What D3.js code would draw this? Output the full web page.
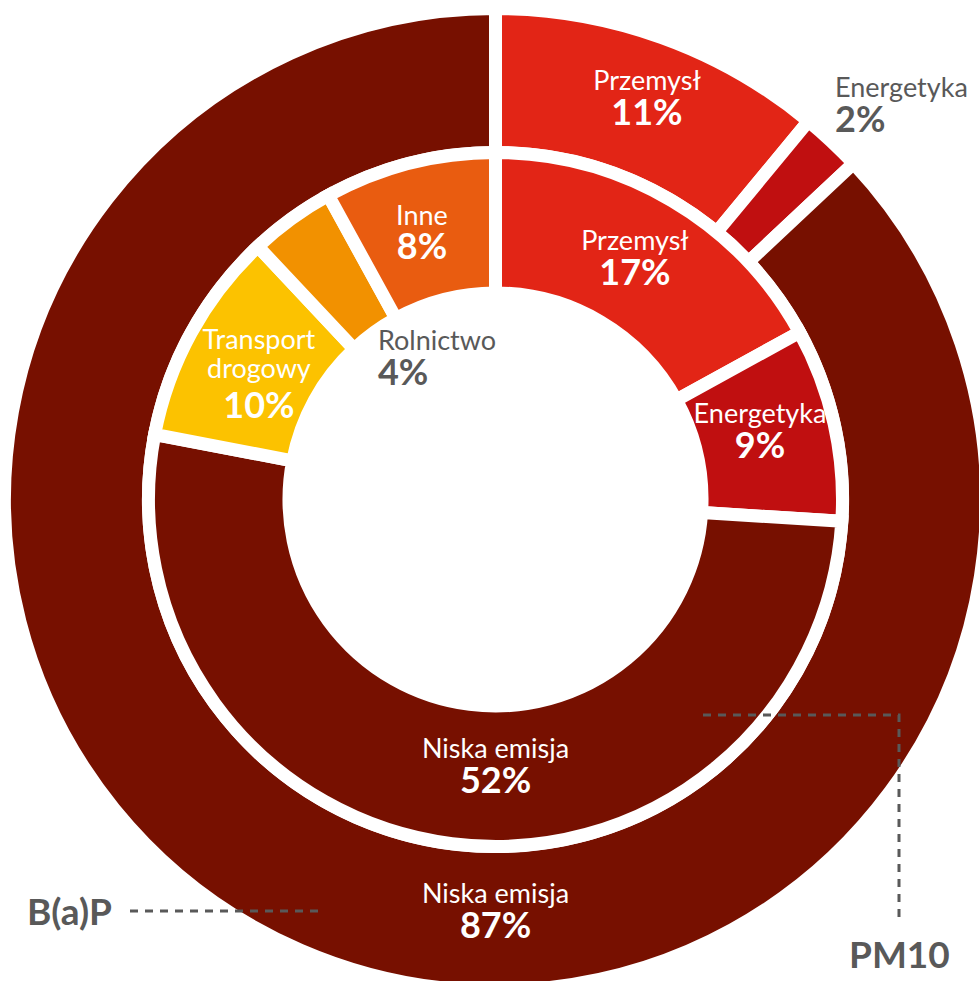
<!DOCTYPE html>
<html>
<head>
<meta charset="utf-8">
<script src="https://cdn.jsdelivr.net/npm/d3@7"></script>
<style>
  html, body { margin: 0; padding: 0; background: #fff; }
  svg { display: block; font-family: Lato, "Open Sans", sans-serif; }
</style>
</head>
<body>
<svg id="chart" width="979" height="981"></svg>
<script>
// ---- data ----
const outerCategories = ["Przemysł", "Energetyka", "Niska emisja"];
const outerValues = [11, 2, 87];
const innerCategories = ["Przemysł", "Energetyka", "Niska emisja", "Transport drogowy", "Rolnictwo", "Inne"];
const innerValues = [17, 9, 52, 10, 4, 8];
const ringNames = ["B(a)P", "PM10"];

// ---- styles / layout ----
const colorMap = {
  "Przemysł": "#e22516",
  "Energetyka": "#c00f10",
  "Niska emisja": "#771000",
  "Transport drogowy": "#fcc200",
  "Rolnictwo": "#f29100",
  "Inne": "#e95c10"
};
const cx = 495.5, cy = 499.5;
const gap = 13;
const R = { outerOut: 484.5, outerIn: 353.5, innerOut: 340.5, innerIn: 213 };
const gray = "#595959";
const nameSize = 27, pctSize = 36, lineStep = 34.5, nameStep = 29, multiPctStep = 40;

// label placement (polar: angle in degrees clockwise from top, radius in px)
const outerLabelLayout = [
  { angle: 20.3, r: 436.6, anchor: "middle", fill: "#fff" },
  { angle: 40.15, r: 526.6, anchor: "start", fill: gray },
  { angle: 180, r: 403.5, anchor: "middle", fill: "#fff" }
];
const innerLabelLayout = [
  { angle: 29.2, r: 285.8, anchor: "middle", fill: "#fff" },
  { angle: 73.9, r: 275.3, anchor: "middle", fill: "#fff" },
  { angle: 180, r: 258.5, anchor: "middle", fill: "#fff" },
  { angle: 302.5, r: 280.5, anchor: "middle", fill: "#fff", lines: ["Transport", "drogowy"] },
  { angle: 321.8, r: 190.1, anchor: "start", fill: gray },
  { angle: 345, r: 284.2, anchor: "middle", fill: "#fff" }
];

const svg = d3.select("#chart");
const g = svg.append("g").attr("transform", `translate(${cx},${cy})`);

const pie = d3.pie().sort(null).value(d => d.value);

function ring(categories, values, rOut, rIn, cls) {
  const data = categories.map((c, i) => ({ name: c, value: values[i] }));
  const arcs = pie(data);
  const arc = d3.arc().innerRadius(rIn - gap / 2).outerRadius(rOut + gap / 2);
  g.append("g").attr("class", cls)
    .selectAll("path").data(arcs).join("path")
    .attr("d", arc)
    .attr("fill", d => colorMap[d.data.name])
    .attr("stroke", "#fff")
    .attr("stroke-width", gap)
    .attr("stroke-linejoin", "miter");
  return arcs;
}

const outerArcs = ring(outerCategories, outerValues, R.outerOut, R.outerIn, "outer");
const innerArcs = ring(innerCategories, innerValues, R.innerOut, R.innerIn, "inner");

function polar(angleDeg, r) {
  const a = angleDeg * Math.PI / 180;
  return [r * Math.sin(a), -r * Math.cos(a)];
}

function labels(arcs, layout, cls) {
  const lg = g.append("g").attr("class", cls);
  arcs.forEach((d, i) => {
    const L = layout[i];
    const [x, y] = polar(L.angle, L.r);
    const lines = L.lines || [d.data.name];
    lines.forEach((ln, k) => {
      lg.append("text")
        .attr("text-anchor", L.anchor).attr("fill", L.fill)
        .attr("x", x).attr("y", y + k * nameStep)
        .attr("font-size", nameSize).attr("font-weight", 400).text(ln);
    });
    const py = y + (lines.length - 1) * nameStep + (lines.length > 1 ? multiPctStep : lineStep);
    lg.append("text")
      .attr("text-anchor", L.anchor).attr("fill", L.fill)
      .attr("x", x).attr("y", py)
      .attr("font-size", pctSize).attr("font-weight", 700).text(d.data.value + "%");
  });
}
labels(outerArcs, outerLabelLayout, "outer-labels");
labels(innerArcs, innerLabelLayout, "inner-labels");

// ring name callouts
const callouts = svg.append("g");
callouts.append("path")
  .attr("d", d3.line()([[130, 911], [325, 911]]))
  .attr("fill", "none").attr("stroke", gray).attr("stroke-width", 3)
  .attr("stroke-dasharray", "8,7");
callouts.append("text").attr("x", 27).attr("y", 925)
  .attr("font-size", 37).attr("font-weight", 700).attr("fill", gray).text(ringNames[0]);

callouts.append("path")
  .attr("d", d3.line()([[703, 715], [899, 715], [899, 923]]))
  .attr("fill", "none").attr("stroke", gray).attr("stroke-width", 3)
  .attr("stroke-dasharray", "8,7");
callouts.append("text").attr("x", 849).attr("y", 968)
  .attr("font-size", 37).attr("font-weight", 700).attr("fill", gray).text(ringNames[1]);
</script>
</body>
</html>
